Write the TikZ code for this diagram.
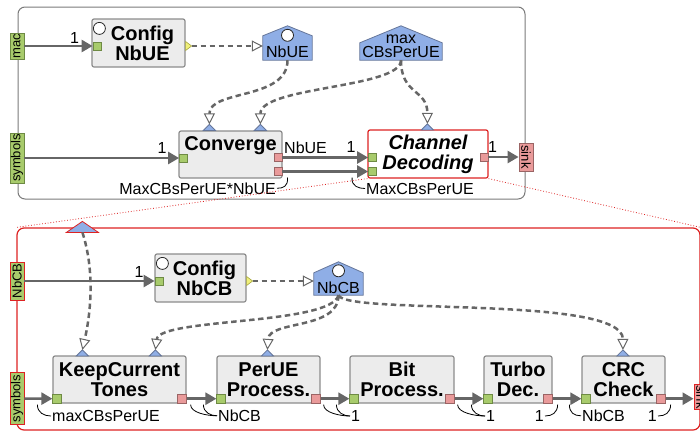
\documentclass[tikz,border=0pt]{standalone}
\usepackage{fontspec}
\setmainfont{Liberation Sans}
\usetikzlibrary{positioning,calc,arrows.meta}

\definecolor{boxfill}{HTML}{ECECEC}
\definecolor{boxline}{HTML}{8C8C8C}
\definecolor{outerline}{HTML}{7A7A7A}
\definecolor{ingreen}{HTML}{A8CB6C}
\definecolor{ingreenline}{HTML}{6E8A44}
\definecolor{outpink}{HTML}{E99A9A}
\definecolor{outpinkline}{HTML}{9A6464}
\definecolor{parblue}{HTML}{8FAEE6}
\definecolor{parline}{HTML}{65769A}
\definecolor{cfgyellow}{HTML}{F0F07A}
\definecolor{cfgyellowline}{HTML}{A5A540}
\definecolor{flowgray}{HTML}{666666}
\definecolor{decred}{HTML}{DD2222}

\begin{document}
\begin{tikzpicture}[x=1pt, y=-1pt,
        container/.style={rectangle, rounded corners=7pt, draw=outerline, line width=1pt, inner sep=0pt},
        actor/.style={rectangle, rounded corners=2pt, draw=boxline, fill=boxfill, line width=1.2pt, inner sep=0pt, align=center, font=\bfseries\fontsize{20}{20}\selectfont},
        inport/.style={rectangle, draw=ingreenline, fill=ingreen, line width=0.8pt, minimum size=8pt, inner sep=0pt},
        outport/.style={inport, draw=outpinkline, fill=outpink},
        lowin/.style={inport, minimum size=9pt, anchor=south west},
        lowout/.style={outport, minimum size=9pt, anchor=south east},
        iobox/.style={rectangle, line width=0.8pt, minimum height=14pt, inner sep=0pt, font=\fontsize{13}{13}\selectfont},
        inio/.style={iobox, rotate=90, draw=ingreenline, fill=ingreen},
        outio/.style={iobox, rotate=-90, draw=outpinkline, fill=outpink},
        flow/.style={draw=flowgray, line width=2.5pt, -{Triangle[length=11pt, width=12pt]}},
        parlink/.style={draw=flowgray, line width=2.5pt, dash pattern=on 5.5pt off 3.5pt, -{Triangle[open, length=11pt, width=11pt, line width=1pt]}},
        param/.style={draw=parline, fill=parblue, line width=0.8pt},
        parbody/.style={rectangle, inner sep=0pt},
        partext/.style={font=\fontsize{16}{14}\selectfont, inner sep=0pt, align=center},
        statedot/.style={draw=black!85, fill=white, line width=0.8pt},
        cfgout/.style={draw=cfgyellowline, fill=cfgyellow, line width=0.6pt},
        rate/.style={font=\fontsize{16}{16}\selectfont, inner sep=1pt},
        hook/.style={draw=black, line width=0.8pt},
        zoomline/.style={draw=decred, line width=0.8pt, dotted},
]
        \useasboundingbox (0,0) rectangle (700,432);

        % the two levels
        \node[container, minimum width=507pt, minimum height=192pt] (top) at (271.5,103) {};
        \node[container, draw=decred, line width=1.2pt, minimum width=683pt, minimum height=202pt] (decbox) at (358.5,329) {};

        % top level ports
        \node[inio, minimum width=26pt] (mac) at (17,46) {mac};
        \node[inio, minimum width=50pt] (symtop) at (17,158) {symbols};
        \node[outio, minimum width=28pt] (sink) at (526,157) {sink};

        % Config NbUE
        \node[actor, minimum width=93pt, minimum height=48pt] (cfgue) at (138.5,43) {\hspace*{8pt}Config\\\hspace*{8pt}NbUE};
        \draw[statedot] ($(cfgue.north west)+(8,10)$) circle (6pt);
        \node[inport] (cfguein) at (97,46) {};
        \draw[cfgout] ($(cfgue.east)+(0,-1.5)$) -- ++(6,4.5) -- ++(-6,4.5) -- cycle;
        \coordinate (cfgueout) at ($(cfgue.east)+(6,3)$);

        % Converge
        \node[actor, minimum width=103pt, minimum height=47pt, text height=15pt, text depth=23pt] (conv) at (230.5,154.5) {Converge};
        \node[inport] (convin) at (183.5,158) {};
        \node[outport] (convouta) at (278,157.5) {};
        \node[outport] (convoutb) at (278,171.5) {};
        \coordinate (convpa) at ($(conv.north west)+(31,-6)$);
        \coordinate (convpb) at ($(conv.north west)+(82,-6)$);
        \draw[param] (convpa) -- ++(-6,6) -- ++(12,0) -- cycle;
        \draw[param] (convpb) -- ++(-6,6) -- ++(12,0) -- cycle;

        % Channel Decoding
        \node[actor, draw=decred, fill=white, font=\bfseries\itshape\fontsize{20}{20}\selectfont, minimum width=120pt, minimum height=48pt] (chdec) at (428,154) {Channel\\Decoding};
        \node[inport] (chdecina) at (372.5,157.5) {};
        \node[inport] (chdecinb) at (372.5,171.5) {};
        \node[outport] (chdecout) at (484,157) {};
        \coordinate (chdecp) at ($(chdec.north west)+(60,-5.5)$);
        \draw[param] (chdecp) -- ++(-6,6) -- ++(12,0) -- cycle;

        % parameters NbUE and maxCBsPerUE
        \node[parbody, minimum width=49pt, minimum height=24pt] (nbue) at (287.5,48) {};
        \draw[param] (nbue.south west) -- (nbue.north west) -- ($(nbue.north)+(0,-10)$) -- (nbue.north east) -- (nbue.south east) -- cycle;
        \draw[statedot] ($(nbue.north)+(0,-0.5)$) circle (6pt);
        \node[partext, anchor=base] (nbuetxt) at (287.5,57) {NbUE};

        \node[parbody, minimum width=82pt, minimum height=17pt] (maxcb) at (401,51.5) {};
        \draw[param] (maxcb.south west) -- (maxcb.north west) -- ($(maxcb.north)+(0,-17)$) -- (maxcb.north east) -- (maxcb.south east) -- cycle;
        \node[partext] (maxcbtxt) at (401,46) {max\\CBsPerUE};

        % top level flows
        \draw[flow] (mac.south) -- (cfguein.west);
        \draw[flow] (symtop.south) -- (convin.west);
        \draw[flow] (convouta.east) -- (chdecina.west);
        \draw[flow] (convoutb.east) -- (chdecinb.west);
        \draw[flow] (chdecout.east) -- (sink.south);

        \draw[parlink] (cfgueout) -- (cfgueout -| nbue.west);
        \draw[parlink] (nbue.south) .. controls +(0,40) and +(0,-35) .. (convpa);
        \draw[parlink] (maxcb.south) .. controls +(0,28) and +(0,-38) .. (convpb);
        \draw[parlink] (maxcb.south) .. controls +(0,35) and +(0,-35) .. (chdecp);

        % top level rates
        \node[rate, anchor=base] (lmac) at (74.5,43) {1};
        \node[rate, anchor=base] (lsymtop) at (162,153) {1};
        \node[rate, anchor=base west] (lconva) at (283,153) {NbUE};
        \node[rate, anchor=base] (lchdeca) at (351,152) {1};
        \node[rate, anchor=base] (lsink) at (492.5,152) {1};
        \node[rate, anchor=base east] (lconvb) at (277,194) {MaxCBsPerUE*NbUE};
        \node[rate, anchor=base west] (lchdecb) at (365,194) {MaxCBsPerUE};
        \draw[hook] ($(convoutb.east)+(5,6)$) .. controls +(1,9) and +(6,0) .. (lconvb.east);
        \draw[hook] ($(chdecinb.west)+(-16,6)$) .. controls +(-1,9) and +(-6,0) .. (lchdecb.west);

        % Channel Decoding level ports
        \node[inio, draw=decred, minimum width=38pt] (nbcbin) at (17,281) {NbCB};
        \node[inio, draw=decred, minimum width=52pt] (symlow) at (17,398.5) {symbols};
        \node[outio, draw=decred, minimum width=25pt] (sinklow) at (701,397) {sink};
        \coordinate (decpar) at ($(decbox.north west)+(66,5)$);
        \draw[param, draw=decred] ($(decpar)+(-16,0)$) -- ($(decpar)+(0,-11)$) -- ($(decpar)+(16,0)$) -- cycle;

        % Config NbCB
        \node[actor, minimum width=91pt, minimum height=48pt] (cfgcb) at (200.5,278) {\hspace*{8pt}Config\\\hspace*{8pt}NbCB};
        \draw[statedot] ($(cfgcb.north west)+(8,10)$) circle (6pt);
        \node[inport] (cfgcbin) at (159,281) {};
        \draw[cfgout] ($(cfgcb.east)+(0,-1.5)$) -- ++(6,4.5) -- ++(-6,4.5) -- cycle;
        \coordinate (cfgcbout) at ($(cfgcb.east)+(6,3)$);

        \node[parbody, minimum width=49pt, minimum height=22pt] (nbcb) at (338.5,284) {};
        \draw[param] (nbcb.south west) -- (nbcb.north west) -- ($(nbcb.north)+(0,-11)$) -- (nbcb.north east) -- (nbcb.south east) -- cycle;
        \draw[statedot] ($(nbcb.north)+(0,-2)$) circle (6pt);
        \node[partext, anchor=base] (nbcbtxt) at (338.5,293) {NbCB};

        % decoding chain
        \node[actor, minimum width=133pt, minimum height=47pt] (kct) at (119.5,379.5) {KeepCurrent\\Tones};
        \node[actor, minimum width=103pt, minimum height=47pt] (perue) at (268.5,379.5) {PerUE\\Process.};
        \node[actor, minimum width=104pt, minimum height=47pt] (bitp) at (402,379.5) {Bit\\Process.};
        \node[actor, minimum width=68pt, minimum height=47pt] (turbo) at (518,379.5) {Turbo\\Dec.};
        \node[actor, minimum width=83pt, minimum height=47pt] (crc) at (623.5,379.5) {CRC\\Check};

        \node[lowin] (kctin) at (kct.south west) {};
        \node[lowout] (kctout) at (kct.south east) {};
        \node[lowin] (peruein) at (perue.south west) {};
        \node[lowout] (perueout) at (perue.south east) {};
        \node[lowin] (bitpin) at (bitp.south west) {};
        \node[lowout] (bitpout) at (bitp.south east) {};
        \node[lowin] (turboin) at (turbo.south west) {};
        \node[lowout] (turboout) at (turbo.south east) {};
        \node[lowin] (crcin) at (crc.south west) {};
        \node[lowout] (crcout) at (crc.south east) {};

        \coordinate (kctpa) at ($(kct.north west)+(30,-5.5)$);
        \coordinate (kctpb) at ($(kct.north west)+(103,-5.5)$);
        \coordinate (pereup) at ($(perue.north west)+(51,-5.5)$);
        \coordinate (crcp) at ($(crc.north west)+(41.5,-5.5)$);
        \draw[param] (kctpa) -- ++(-6,6) -- ++(12,0) -- cycle;
        \draw[param] (kctpb) -- ++(-6,6) -- ++(12,0) -- cycle;
        \draw[param] (pereup) -- ++(-6,6) -- ++(12,0) -- cycle;
        \draw[param] (crcp) -- ++(-6,6) -- ++(12,0) -- cycle;

        \draw[flow] (nbcbin.south) -- (cfgcbin.west);
        \draw[flow] (symlow.south) -- (kctin.west);
        \draw[flow] (kctout.east) -- (peruein.west);
        \draw[flow] (perueout.east) -- (bitpin.west);
        \draw[flow] (bitpout.east) -- (turboin.west);
        \draw[flow] (turboout.east) -- (crcin.west);
        \draw[flow] (crcout.east) -- (crcout.east -| sinklow.south);

        \draw[parlink] (cfgcbout) -- (cfgcbout -| nbcb.west);
        \draw[parlink] (decpar) .. controls +(12,37) and +(9,-40) .. (kctpa);
        \draw[parlink] (nbcb.south) .. controls +(-8,30) and +(4,-32) .. (kctpb);
        \draw[parlink] (nbcb.south) .. controls +(0,35) and +(2,-30) .. (pereup);
        \draw[parlink] (nbcb.south) .. controls +(7,20) and +(0,-55) .. (crcp);

        % decoding chain rates
        \node[rate, anchor=base] (lnbcb) at (139,277.5) {1};
        \node[rate, anchor=base west] (lkctin) at (51,421.5) {maxCBsPerUE};
        \node[rate, anchor=base west] (lkctout) at (217,421.5) {NbCB};
        \node[rate, anchor=base west] (lperueout) at (350,421.5) {1};
        \node[rate, anchor=base west] (lbitpout) at (485,421.5) {1};
        \node[rate, anchor=base east] (lturboout) at (545,421.5) {1};
        \node[rate, anchor=base west] (lcrcin) at (581,421.5) {NbCB};
        \node[rate, anchor=base east] (lcrcout) at (658,421.5) {1};

        \draw[hook] ($(kctin.west)+(-15,6)$) .. controls +(0,8) and +(-7,0) .. (lkctin.west);
        \draw[hook] ($(kctout.east)+(4,6)$) .. controls +(0,8) and +(-10,0) .. (lkctout.west);
        \draw[hook] ($(peruein.west)+(-13,6)$) .. controls +(0,8) and +(-6,0) .. (lkctout.west);
        \draw[hook] ($(perueout.east)+(3,6)$) .. controls +(0,8) and +(-10,0) .. (lperueout.west);
        \draw[hook] ($(bitpin.west)+(-13,6)$) .. controls +(0,8) and +(-6,0) .. (lperueout.west);
        \draw[hook] ($(bitpout.east)+(3,6)$) .. controls +(0,8) and +(-10,0) .. (lbitpout.west);
        \draw[hook] ($(turboin.west)+(-12,6)$) .. controls +(0,8) and +(-6,0) .. (lbitpout.west);
        \draw[hook] ($(turboout.east)+(5,6)$) .. controls +(0,8) and +(7,0) .. (lturboout.east);
        \draw[hook] ($(crcin.west)+(-12,6)$) .. controls +(0,8) and +(-7,0) .. (lcrcin.west);
        \draw[hook] ($(crcout.east)+(5,6)$) .. controls +(0,8) and +(7,0) .. (lcrcout.east);

        % zoom from Channel Decoding to its content
        \draw[zoomline] (chdec.south west) -- (decbox.north west);
        \draw[zoomline] (chdec.south east) -- (decbox.north east);
\end{tikzpicture}
\end{document}
